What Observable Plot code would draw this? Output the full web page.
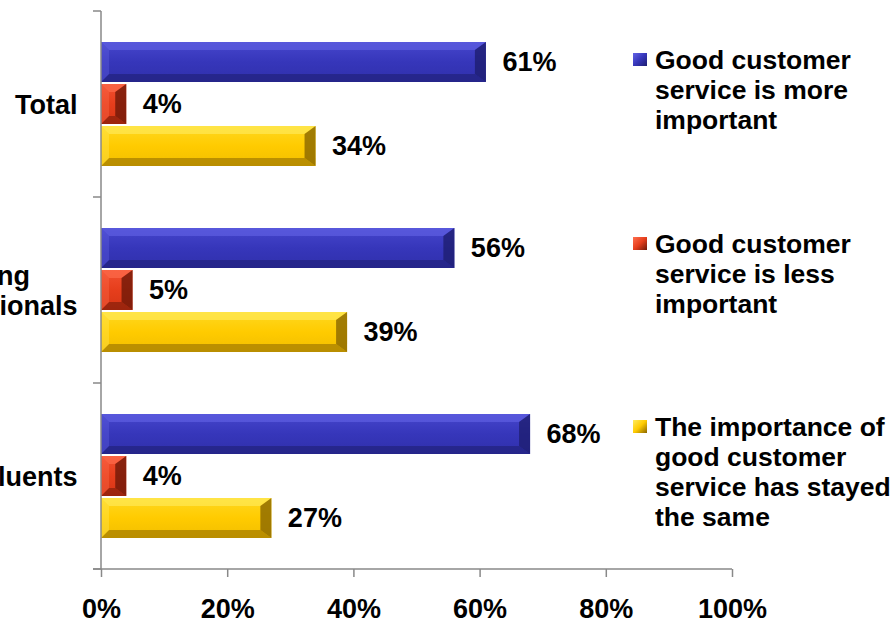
<!DOCTYPE html>
<html><head><meta charset="utf-8">
<script src="https://cdn.jsdelivr.net/npm/d3@7"></script>
<script src="https://cdn.jsdelivr.net/npm/@observablehq/plot@0.6"></script>
<style>
body{margin:0;background:#fff;font-family:"Liberation Sans",Arial,sans-serif;}
#wrap{position:relative;width:890px;height:624px;overflow:hidden;background:#fff}
#legend{position:absolute;left:633px;top:45px;}
.item{position:relative;height:183.5px;}
.sw{position:absolute;left:0;top:8px;width:14px;height:13px}
.lt{position:absolute;left:22px;top:0;font-weight:bold;font-size:26.5px;line-height:30px;width:250px;color:#000;white-space:nowrap}
</style></head><body>
<div id="wrap"><div id="chart"></div><div id="legend"></div></div>
<script>
const groups = ["Total", "Young Professionals", "Affluents"];
const groupLabels = ["Total", "Young\nProfessionals", "Affluents"];
const series = [
  "Good customer service is more important",
  "Good customer service is less important",
  "The importance of good customer service has stayed the same"
];
const legendLines = [
  ["Good customer", "service is more", "important"],
  ["Good customer", "service is less", "important"],
  ["The importance of", "good customer", "service has stayed", "the same"]
];
const moreImportant = [0.61, 0.56, 0.68];
const lessImportant = [0.04, 0.05, 0.04];
const stayedSame = [0.34, 0.39, 0.27];
const xTicks = [0, 0.2, 0.4, 0.6, 0.8, 1];
const xTickLabels = ["0%", "20%", "40%", "60%", "80%", "100%"];

const palettes = [
  {id: "gBlue", stops: [["0", "#4646cc"], ["0.5", "#3636ba"], ["1", "#3030ac"]], light: "#6464e6", dark: "#1e1e70"},
  {id: "gRed", stops: [["0", "#f25030"], ["0.5", "#e63e1c"], ["1", "#d63616"]], light: "#ff7050", dark: "#6e1808"},
  {id: "gYellow", stops: [["0", "#ffd820"], ["0.5", "#ffcb00"], ["1", "#f2be00"]], light: "#ffec60", dark: "#8a6600"}
];

const values = [moreImportant, lessImportant, stayedSame];
const rows = groups.flatMap((g, i) => series.map((s, j) => ({group: g, series: s, value: values[j][i]})));
const pct = v => Math.round(v * 100) + "%";

(function draw() {
const plot = Plot.plot({
  width: 890,
  height: 624,
  marginTop: 10,
  marginBottom: 55,
  marginLeft: 101,
  marginRight: 158,
  style: {fontFamily: "'Liberation Sans', Arial, sans-serif", fontSize: "27px", fontWeight: "bold", color: "#000", background: "transparent", overflow: "visible"},
  x: {domain: [0, 1]},
  fy: {domain: groups, padding: 0, axis: null},
  y: {domain: series, paddingInner: 0.05, paddingOuter: 0.72, axis: null},
  color: {domain: series, range: palettes.map(p => `url(#${p.id})`)},
  marks: [
    Plot.barX(rows, {fy: "group", y: "series", x: "value", fill: "series", inset: 0, className: "bars"}),
    Plot.text(rows, {fy: "group", y: "series", x: "value", text: d => pct(d.value), textAnchor: "start", dx: 16, fill: "#000"}),
    Plot.text(groups, {fy: d => d, text: (d, i) => groupLabels[i], frameAnchor: "left", textAnchor: "end", dx: -24, lineHeight: 1.12, fill: "#000", className: "grplabel"}),
    Plot.axisX({ticks: xTicks, tickFormat: (d, i) => xTickLabels[i], tickSize: 8, tickPadding: 21, fill: "#000", label: null, className: "xaxis"})
  ]
});
document.getElementById("chart").appendChild(plot);

const svg = d3.select(plot);
const defs = svg.insert("defs", ":first-child");
palettes.forEach(p => {
  const lg = defs.append("linearGradient").attr("id", p.id).attr("x1", 0).attr("y1", 0).attr("x2", 0).attr("y2", 1);
  p.stops.forEach(([o, c]) => lg.append("stop").attr("offset", o).attr("stop-color", c));
});

// bevel overlays derived from each rendered bar
svg.selectAll(".bars rect").each(function() {
  const r = this;
  const x = +r.getAttribute("x"), y = +r.getAttribute("y");
  const w = +r.getAttribute("width"), h = +r.getAttribute("height");
  const idx = palettes.findIndex(p => (r.getAttribute("fill") || "").includes(p.id));
  const p = palettes[idx < 0 ? 0 : idx];
  const b = Math.min(8, w / 2, h / 2);
  const br = Math.min(11, w / 2, h / 2);
  const g = d3.select(r.parentNode);
  const poly = (pts, fill, op) => g.append("polygon").attr("points", pts.map(q => q.join(",")).join(" ")).attr("fill", fill).attr("fill-opacity", op);
  poly([[x, y], [x + w, y], [x + w - br, y + b], [x + b, y + b]], p.light, 0.6);
  poly([[x, y + h], [x + w, y + h], [x + w - br, y + h - b], [x + b, y + h - b]], p.dark, 0.55);
  poly([[x + w, y], [x + w - br, y + b], [x + w - br, y + h - b], [x + w, y + h]], p.dark, 0.8);
  poly([[x, y], [x + b, y + b], [x + b, y + h - b], [x, y + h]], p.light, 0.35);
});

svg.selectAll("g[aria-label='x-axis tick'] path").attr("stroke", "#898989").attr("stroke-width", 1.5);

// center multi-line group labels within a right-aligned block
svg.selectAll(".grplabel text").each(function() {
  const tspans = this.querySelectorAll("tspan");
  if (tspans.length > 1) {
    let maxW = 0;
    tspans.forEach(t => { maxW = Math.max(maxW, t.getComputedTextLength()); });
    this.setAttribute("text-anchor", "middle");
    tspans.forEach(t => t.setAttribute("x", -maxW / 2));
  }
});

const xs = plot.scale("x"), fys = plot.scale("fy");
const x0 = xs.apply(0), x1 = xs.apply(1);
const yTop = fys.apply(groups[0]);
const yBottom = fys.apply(groups[groups.length - 1]) + fys.bandwidth;
const ag = svg.append("g").attr("stroke", "#898989").attr("stroke-width", 1.5).attr("fill", "none");
ag.append("line").attr("x1", x0).attr("x2", x0).attr("y1", yTop).attr("y2", yBottom);
ag.append("line").attr("x1", x0 - 8).attr("x2", x1).attr("y1", yBottom).attr("y2", yBottom);
[yTop, ...groups.map(g => fys.apply(g) + fys.bandwidth)].forEach(y => {
  ag.append("line").attr("x1", x0 - 8).attr("x2", x0).attr("y1", y).attr("y2", y);
});

// legend
const legend = d3.select("#legend");
series.forEach((s, i) => {
  const it = legend.append("div").attr("class", "item");
  const p = palettes[i];
  it.append("div").attr("class", "sw").style("background", `linear-gradient(135deg, ${p.light} 0%, ${p.stops[1][1]} 50%, ${p.dark} 100%)`);
  it.append("div").attr("class", "lt").html(legendLines[i].join("<br>"));
});
})();
</script>
</body></html>
